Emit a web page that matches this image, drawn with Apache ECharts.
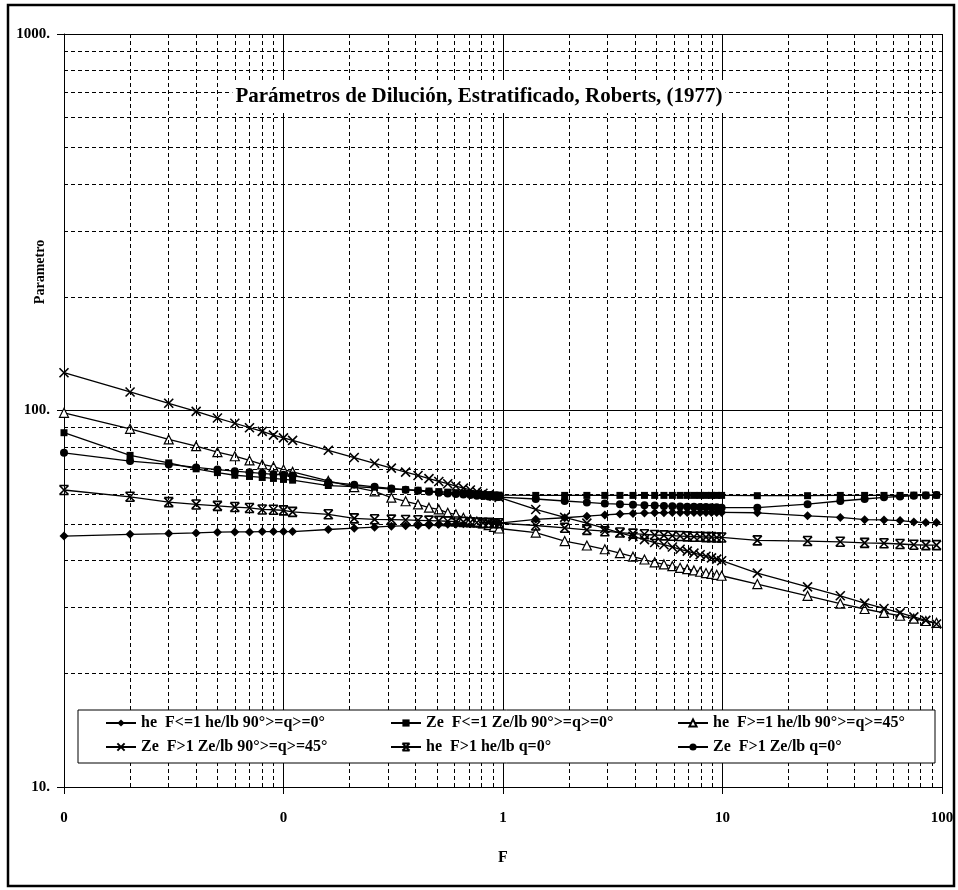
<!DOCTYPE html>
<html>
<head>
<meta charset="utf-8">
<script src="https://cdn.jsdelivr.net/npm/echarts/dist/echarts.min.js"></script>
<style>
html,body{margin:0;padding:0;background:#fff;}
#chart{width:958px;height:890px;}
</style>
</head>
<body>
<div id="chart"></div>
<script>
// ---- data ----
const F = [0.01,0.02,0.03,0.04,0.05,0.06,0.07,0.08,0.09,0.10,0.11,
  0.16,0.21,0.26,0.31,0.36,0.41,0.46,0.51,0.56,0.61,0.66,0.71,0.76,0.81,0.86,0.91,0.96,
  1.41,1.91,2.41,2.91,3.41,3.91,4.41,4.91,5.41,5.91,6.41,6.91,7.41,7.91,8.41,8.91,9.41,9.91,
  14.41,24.41,34.41,44.41,54.41,64.41,74.41,84.41,94.41];

const heLe1 = [46.4,46.9,47.1,47.3,47.5,47.6,47.6,47.7,47.7,47.7,47.7,
  48.3,48.7,49.0,49.3,49.4,49.5,49.6,49.8,49.9,49.9,50.0,50.0,50.1,50.1,50.1,50.2,50.2,
  51.4,51.9,52.4,52.8,53.1,53.3,53.4,53.5,53.5,53.6,53.6,53.6,53.6,53.6,53.6,53.6,53.6,53.6,
  53.5,52.5,52.0,51.3,51.2,51.0,50.6,50.4,50.4];

const zeLe1 = [87.3,76.0,72.6,70.0,68.4,67.3,66.8,66.4,66.0,65.6,65.3,
  63.2,62.8,62.3,61.8,61.6,61.4,61.1,60.9,60.7,60.5,60.3,60.2,60.0,59.9,59.8,59.7,59.6,
  59.5,59.5,59.5,59.5,59.5,59.5,59.5,59.5,59.5,59.5,59.5,59.5,59.5,59.5,59.5,59.5,59.5,59.5,
  59.4,59.4,59.5,59.5,59.5,59.5,59.6,59.6,59.6];

const heGe1q45 = [98.6,89.4,83.8,80.4,77.5,75.6,73.7,71.9,70.9,69.7,68.7,
  65.0,62.6,61.0,58.7,57.4,56.3,55.2,54.6,53.5,53.0,51.9,51.3,50.7,50.1,49.6,49.1,48.6,
  47.4,45.0,43.8,42.8,41.8,40.9,40.2,39.5,39.0,38.6,38.2,37.9,37.6,37.3,37.0,36.8,36.6,36.4,
  34.6,32.2,30.7,29.7,29.0,28.5,28.0,27.6,27.3];

const zeGt1q45 = [126,112,104.5,99.5,95.5,92.5,90,88,86,84.6,83.3,
  78.4,75.0,72.4,70.3,68.6,67.2,65.9,64.8,63.9,63.0,62.2,61.5,60.9,60.3,59.7,59.2,58.8,
  54.6,52.0,50.2,48.6,47.3,46.3,45.4,44.6,44.0,43.4,42.8,42.3,41.8,41.4,41.0,40.6,40.3,39.9,
  37.0,34.0,32.2,30.8,29.8,29.0,28.3,27.7,27.1];

const heGt1q0 = [61.5,59.0,57.1,56.3,55.8,55.4,55.1,54.6,54.5,54.3,53.8,
  53.0,51.7,51.4,51.3,51.2,51.1,51.0,50.9,50.8,50.7,50.6,50.5,50.4,50.3,50.3,50.2,50.2,
  49.5,48.8,48.2,47.8,47.4,47.1,46.9,46.7,46.6,46.5,46.4,46.3,46.2,46.2,46.1,46.1,46.0,46.0,
  45.2,45.0,44.8,44.5,44.4,44.2,44.0,43.9,43.9];

const zeGt1q0 = [77.2,73.4,71.9,70.6,69.7,69.0,68.5,68.1,67.7,67.5,67.2,
  64.5,63.5,62.7,62.1,61.6,61.2,60.8,60.5,60.2,60.0,59.8,59.6,59.4,59.3,59.1,59.0,58.9,
  58.2,57.5,57.0,56.6,56.4,56.2,56.0,55.9,55.8,55.7,55.6,55.5,55.5,55.4,55.4,55.3,55.3,55.2,
  55.2,56.4,57.5,58.2,58.8,59.1,59.4,59.5,59.6];

const seriesNames = [
  'he  F<=1 he/lb 90°>=q>=0°',
  'Ze  F<=1 Ze/lb 90°>=q>=0°',
  'he  F>=1 he/lb 90°>=q>=45°',
  'Ze  F>1 Ze/lb 90°>=q>=45°',
  'he  F>1 he/lb q=0°',
  'Ze  F>1 Ze/lb q=0°'
];

// gridline positions (minor, dashed)
const xMinor = [0.02,0.03,0.04,0.05,0.06,0.07,0.08,0.09,
  0.2,0.3,0.4,0.5,0.6,0.7,0.8,0.9, 2,3,4,5,6,7,8,9, 20,30,40,50,60,70,80,90];
const yMinor = [20,30,40,50,60,70,80,90, 200,300,400,500,600,700,800,900];

const titleText = 'Parámetros de Dilución, Estratificado, Roberts, (1977)';
// -------------------------------------

const SERIF = "'Liberation Serif','Times New Roman',serif";
const zip = ys => F.map((x, i) => [x, ys[i]]);

const X_PATH = 'path://M0,0L10,10M10,0L0,10';
const AST_PATH = 'path://M0,0L10,0M0,10L10,10M0,0L10,10M10,0L0,10';

function mk(name, ys, symbol, size, hollow, stroke) {
  return {
    name, type: 'line', data: zip(ys),
    symbol, symbolSize: size, showAllSymbol: true,
    lineStyle: { color: '#000', width: 1.3 },
    itemStyle: hollow ? { color: '#fff', borderColor: '#000', borderWidth: 1.2 }
             : stroke ? { color: '#000', borderColor: '#000', borderWidth: 1.6 }
             : { color: '#000', borderColor: '#000', borderWidth: 0 },
    emphasis: { disabled: true },
    animation: false, z: 3
  };
}

const series = [
  mk(seriesNames[0], heLe1, 'diamond', 9),
  mk(seriesNames[1], zeLe1, 'rect', 7),
  mk(seriesNames[2], heGe1q45, 'triangle', 9, true),
  mk(seriesNames[3], zeGt1q45, X_PATH, 9, false, true),
  mk(seriesNames[4], heGt1q0, AST_PATH, 9, false, true),
  mk(seriesNames[5], zeGt1q0, 'circle', 8),
  {
    name: 'grid', type: 'line', data: [], silent: true, animation: false, z: 1,
    markLine: {
      silent: true, animation: false, symbol: ['none', 'none'],
      label: { show: false },
      lineStyle: { color: '#000', width: 1, type: [4, 3] },
      emphasis: { disabled: true },
      data: xMinor.map(v => ({ xAxis: v })).concat(yMinor.map(v => ({ yAxis: v })))
    }
  }
];

const legendCommon = {
  orient: 'vertical', itemGap: 8, itemWidth: 30, itemHeight: 9, padding: 0,
  selectedMode: false, z: 20,
  textStyle: { fontFamily: SERIF, fontWeight: 'bold', fontSize: 16, color: '#000' }
};

const chart = echarts.init(document.getElementById('chart'), null, { renderer: 'canvas' });
chart.setOption({
  backgroundColor: '#fff',
  animation: false,
  title: {
    text: titleText, left: 'center', top: 80,
    backgroundColor: '#fff', padding: [6, 3],
    textStyle: { fontFamily: SERIF, fontWeight: 'bold', fontSize: 21, color: '#000' }
  },
  grid: { left: 64, right: 16, top: 34, bottom: 103, containLabel: false },
  xAxis: {
    type: 'log', logBase: 10, min: 0.01, max: 100,
    name: 'F', nameLocation: 'middle', nameGap: 63,
    nameTextStyle: { fontFamily: SERIF, fontWeight: 'bold', fontSize: 16, color: '#000' },
    axisLine: { show: true, onZero: false, lineStyle: { color: '#000', width: 1 } },
    axisTick: { show: true, length: 7, inside: false, lineStyle: { color: '#000' } },
    axisLabel: {
      margin: 24, fontFamily: SERIF, fontWeight: 'bold', fontSize: 15, color: '#000',
      formatter: v => (v < 1 ? '0' : String(Math.round(v)))
    },
    splitLine: { show: true, lineStyle: { color: '#000', width: 1, type: 'solid' } },
    minorTick: { show: false }, minorSplitLine: { show: false }
  },
  yAxis: {
    type: 'log', logBase: 10, min: 10, max: 1000,
    axisLine: { show: true, onZero: false, lineStyle: { color: '#000', width: 1 } },
    axisTick: { show: true, length: 7, inside: false, lineStyle: { color: '#000' } },
    axisLabel: {
      margin: 14, fontFamily: SERIF, fontWeight: 'bold', fontSize: 15, color: '#000',
      formatter: v => String(Math.round(v)) + '.'
    },
    splitLine: { show: true, lineStyle: { color: '#000', width: 1, type: 'solid' } },
    minorTick: { show: false }, minorSplitLine: { show: false }
  },
  legend: [
    Object.assign({ left: 105, top: 715, data: [seriesNames[0], seriesNames[3]] }, legendCommon),
    Object.assign({ left: 390, top: 715, data: [seriesNames[1], seriesNames[4]] }, legendCommon),
    Object.assign({ left: 677, top: 715, data: [seriesNames[2], seriesNames[5]] }, legendCommon)
  ],
  graphic: [
    { type: 'rect', z: 10, silent: true,
      shape: { x: 78, y: 710, width: 857, height: 53 },
      style: { fill: '#fff', stroke: '#000', lineWidth: 1 } },
    { type: 'rect', z: 10, silent: true,
      shape: { x: 8, y: 5, width: 946, height: 881 },
      style: { fill: 'none', stroke: '#000', lineWidth: 2.5 } },
    { type: 'text', z: 10, silent: true, x: 40, y: 272, rotation: Math.PI / 2,
      style: { text: 'Parametro', fontFamily: SERIF, fontWeight: 'bold', fontSize: 14,
               fill: '#000', align: 'center', verticalAlign: 'middle' } }
  ],
  series
});
</script>
</body>
</html>
